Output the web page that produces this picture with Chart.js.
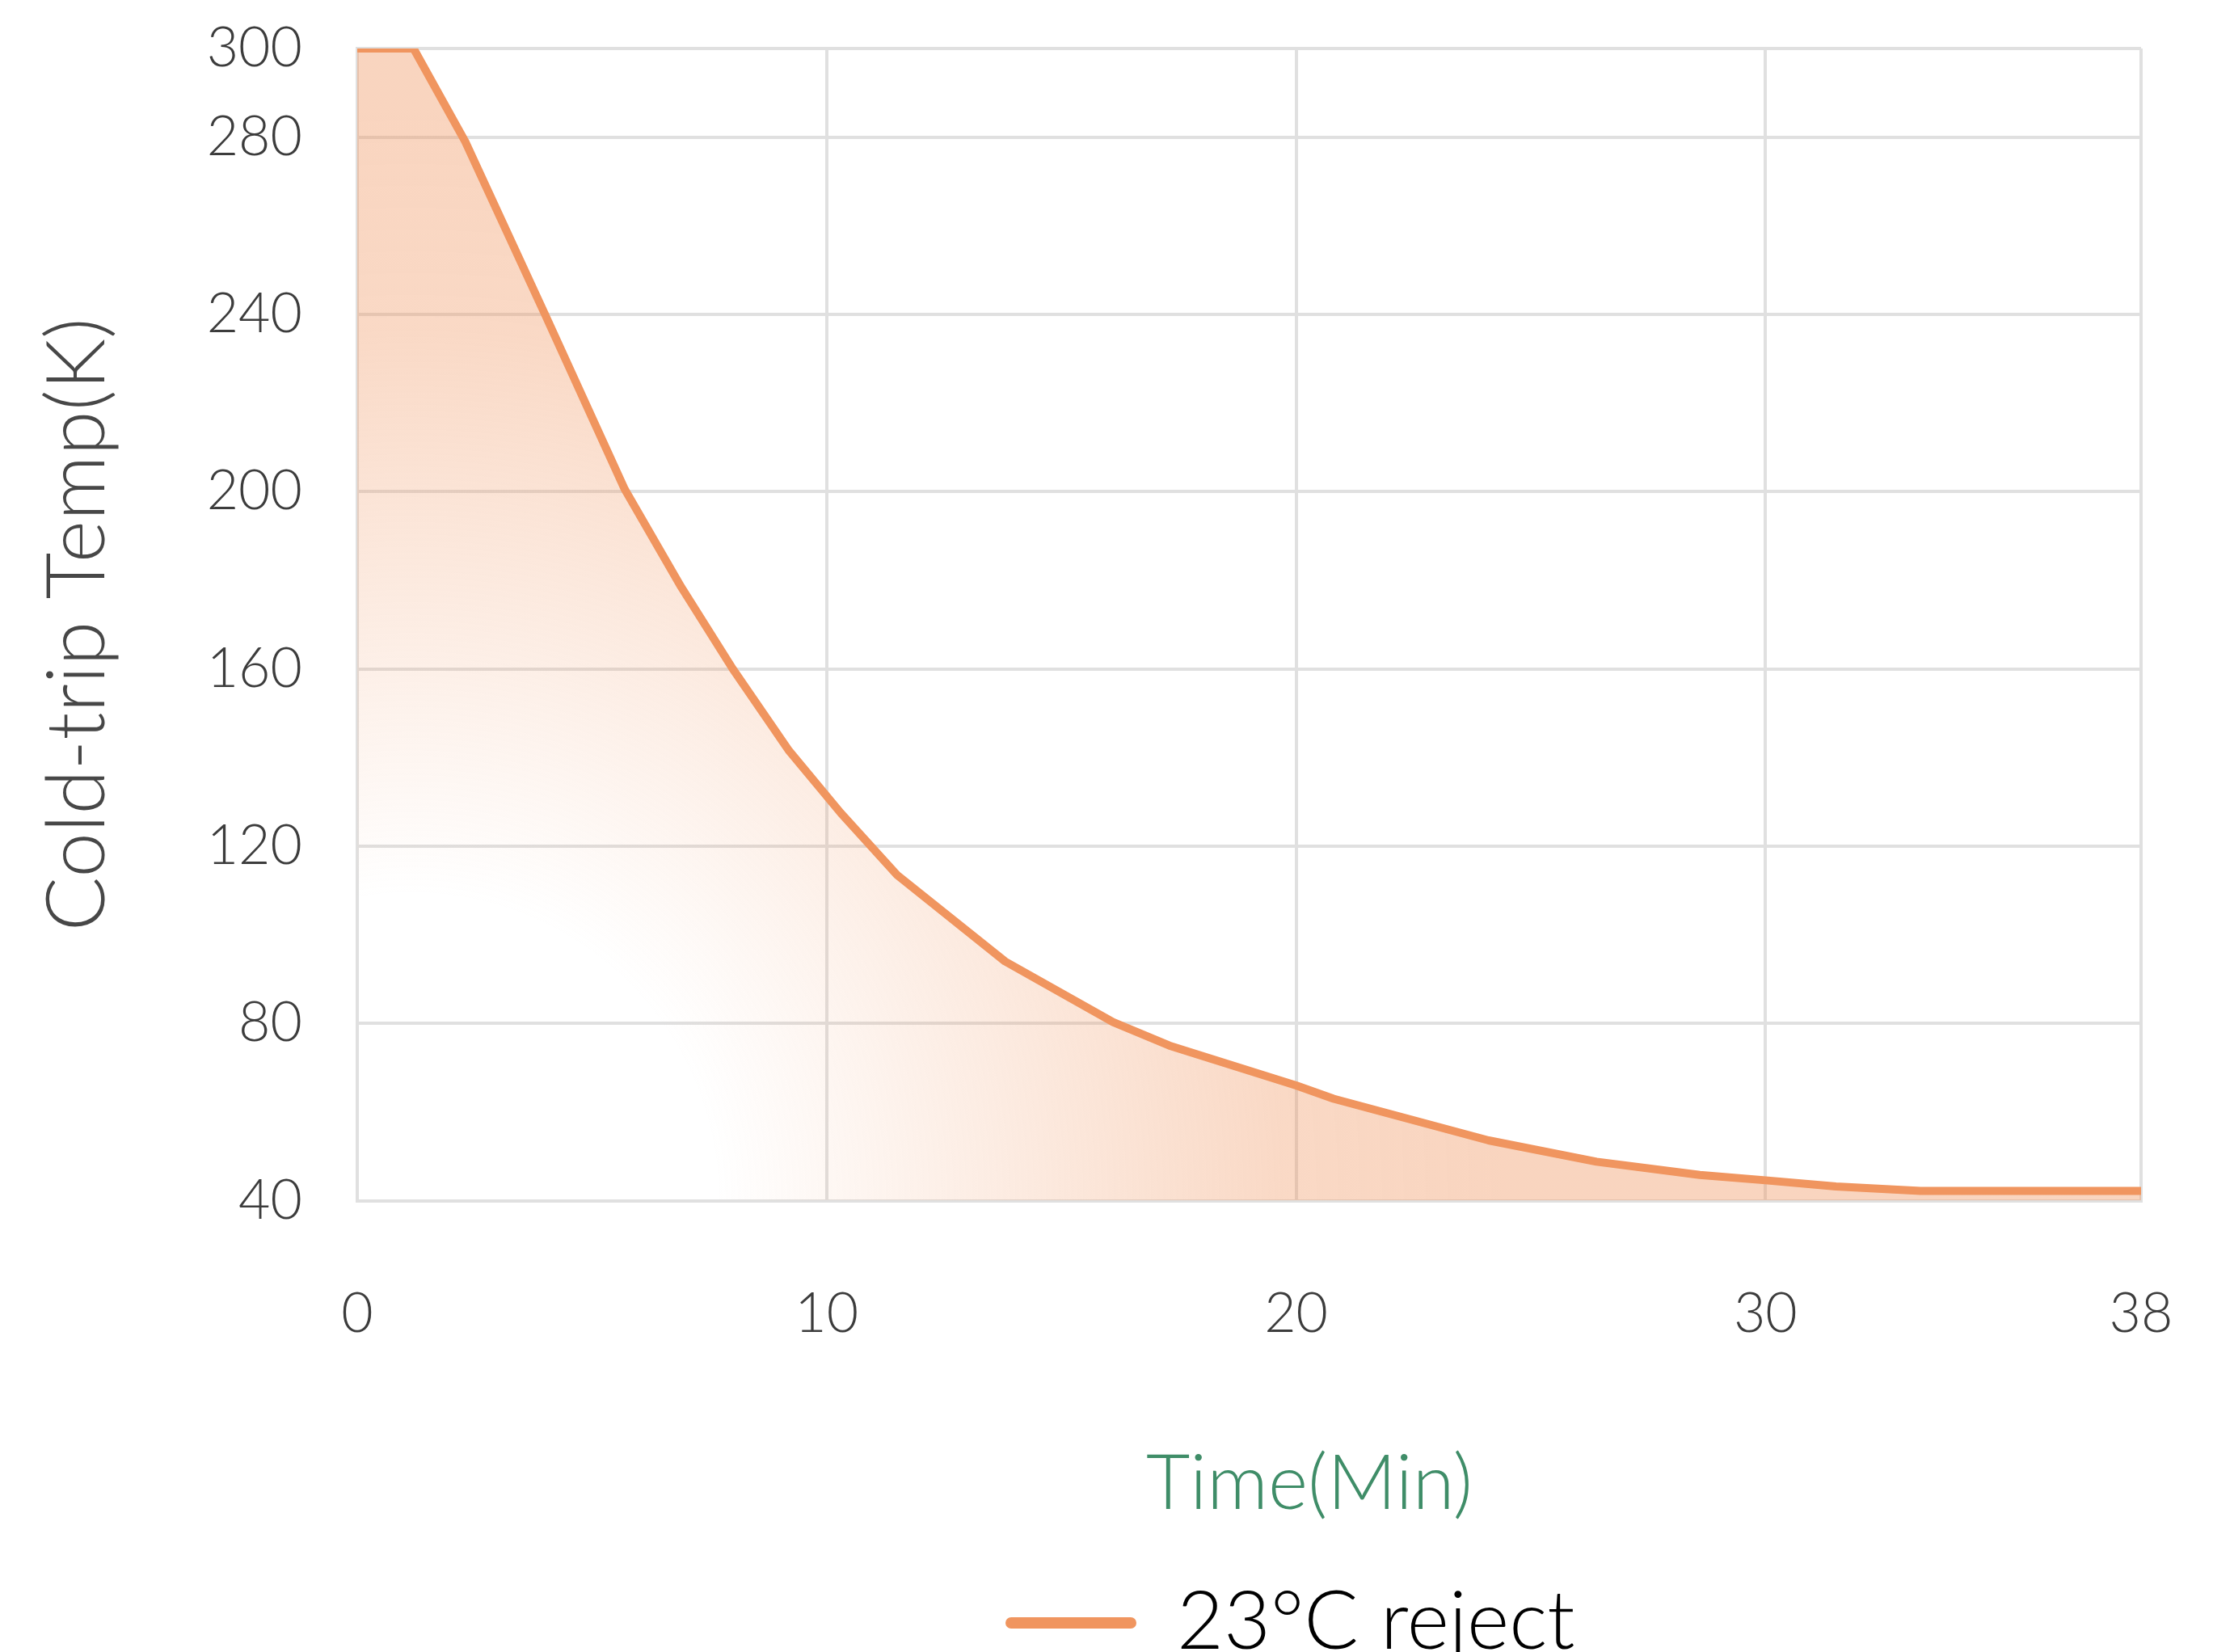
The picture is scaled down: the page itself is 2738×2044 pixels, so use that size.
<!DOCTYPE html>
<html>
<head>
<meta charset="utf-8">
<script src="https://cdn.jsdelivr.net/npm/chart.js@4.4.1/dist/chart.umd.min.js"></script>
<style>
  html, body { margin: 0; padding: 0; background: #ffffff; }
  #wrap { width: 2738px; height: 2044px; position: relative; }
</style>
</head>
<body>
<div id="wrap"><canvas id="c"></canvas></div>
<script>
// ---- data ----
const timeMin = [0, 1.2, 2.3, 4.0, 5.7, 6.9, 8.0, 9.2, 10.3, 11.5, 13.8, 16.1, 17.3, 20.0, 20.8, 24.1, 26.4, 28.6, 30.0, 31.5, 33.3, 38];
const coldTipTemp = [300, 300, 279, 240, 200.5, 178.5, 160, 141.5, 127.5, 113.5, 94, 80.3, 75, 66, 63, 53.6, 48.8, 45.8, 44.6, 43.2, 42.2, 42.2];
const xTickValues = [0, 10, 20, 30, 38];
const yTickValues = [40, 80, 120, 160, 200, 240, 280, 300];
const seriesLabel = '23°C reject';
const xTitle = 'Time(Min)';
const yTitle = 'Cold-trip Temp(K)';

const FONT = 'Lato, "Open Sans", sans-serif';
const LINE = '#f0955f';
const GRID = '#e0e0e0';

const points = timeMin.map((t, i) => ({ x: t, y: coldTipTemp[i] }));

function fillGradient(ctx) {
  const chart = ctx.chart;
  const a = chart.chartArea;
  if (!a) return 'rgba(240,149,95,0.3)';
  const w = a.right - a.left;
  const cx = a.left + 0.03 * w, cy = a.bottom;
  const g = chart.ctx.createRadialGradient(cx, cy, 0, cx, cy, 1350);
  g.addColorStop(0, 'rgba(240,149,95,0)');
  g.addColorStop(0.28, 'rgba(240,149,95,0)');
  g.addColorStop(0.8, 'rgba(240,149,95,0.36)');
  g.addColorStop(1, 'rgba(240,149,95,0.40)');
  return g;
}

// place the bottom title and legend where they sit in the picture
const placeBlocks = {
  id: 'placeBlocks',
  afterLayout(chart) {
    const t = chart.titleBlock;
    if (t) {
      const dx = 1620 - (t.left + t.right) / 2;
      t.left += dx; t.right += dx;
      const h = t.bottom - t.top;
      const newTop = 1837 - h / 2;
      t.top = newTop; t.bottom = newTop + h;
    }
    const l = chart.legend;
    if (l && l.lineWidths) {
      const pad = l.options.labels.padding;
      const start = (l.left + pad + l.right - l.lineWidths[0]) / 2;
      const dx = 1244 - start;
      l.left += dx; l.right += dx;
      const h = l.bottom - l.top;
      const itemH = l.options.labels.font.size;
      const newTop = 2008 - pad - itemH / 2;
      l.top = newTop; l.bottom = newTop + h;
    }
  }
};

new Chart(document.getElementById('c'), {
  type: 'line',
  data: {
    datasets: [{
      label: seriesLabel,
      data: points,
      borderColor: LINE,
      borderWidth: 10,
      backgroundColor: fillGradient,
      fill: 'start',
      pointRadius: 0,
      pointHoverRadius: 0,
      tension: 0,
      borderJoinStyle: 'round',
      borderCapStyle: 'round'
    }]
  },
  options: {
    responsive: true,
    maintainAspectRatio: false,
    animation: false,
    layout: { padding: { left: 0, right: 89, top: 60, bottom: 44 } },
    scales: {
      x: {
        type: 'linear',
        min: 0,
        max: 38,
        afterBuildTicks: (s) => { s.ticks = xTickValues.map(v => ({ value: v })); },
        afterFit: (s) => { s.paddingLeft = 0; s.paddingRight = 0; },
        ticks: {
          autoSkip: false,
          maxRotation: 0,
          padding: 100,
          color: '#3c3c3c',
          font: { family: FONT, size: 68, weight: 300 }
        },
        grid: { color: GRID, lineWidth: 4, drawTicks: false },
        border: { color: GRID, width: 4 }
      },
      y: {
        type: 'linear',
        min: 40,
        max: 300,
        afterBuildTicks: (s) => { s.ticks = yTickValues.map(v => ({ value: v })); },
        afterFit: (s) => { s.width = 442; s.paddingTop = 0; s.paddingBottom = 0; },
        ticks: {
          autoSkip: false,
          padding: 68,
          color: '#3c3c3c',
          font: { family: FONT, size: 68, weight: 300 }
        },
        title: {
          display: true,
          text: yTitle,
          color: '#474747',
          font: { family: FONT, size: 100, weight: 300 },
          padding: { top: 37, bottom: 0 }
        },
        grid: { color: GRID, lineWidth: 4, drawTicks: false },
        border: { color: GRID, width: 4 }
      }
    },
    plugins: {
      tooltip: { enabled: false },
      title: {
        display: true,
        position: 'bottom',
        text: xTitle,
        color: '#3f8d68',
        font: { family: FONT, size: 94, weight: 300, lineHeight: 1.2 },
        padding: 0,
        weight: 500
      },
      legend: {
        display: true,
        position: 'bottom',
        weight: 1000,
        labels: {
          boxWidth: 162,
          boxHeight: 14,
          padding: 10,
          color: '#3a3a3a',
          font: { family: FONT, size: 100, weight: 300 },
          useBorderRadius: true,
          borderRadius: 7,
          generateLabels: (chart) => [{
            text: seriesLabel,
            fillStyle: LINE,
            strokeStyle: LINE,
            lineWidth: 0,
            hidden: false,
            datasetIndex: 0,
            borderRadius: 7
          }]
        }
      }
    }
  },
  plugins: [placeBlocks]
});
</script>
</body>
</html>
